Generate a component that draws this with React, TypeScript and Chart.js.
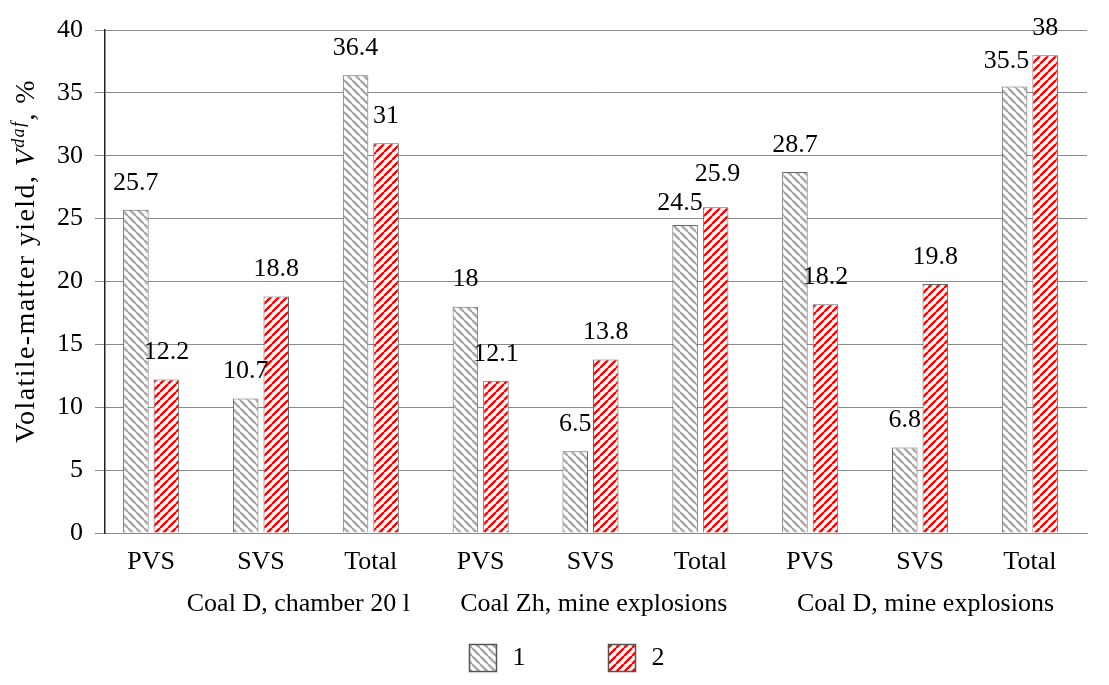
import React, { useEffect, useRef } from "react";
import { Chart, registerables } from "chart.js";

Chart.register(...registerables);

const categories = ["PVS", "SVS", "Total", "PVS", "SVS", "Total", "PVS", "SVS", "Total"];
const series1 = [25.7, 10.7, 36.4, 18, 6.5, 24.5, 28.7, 6.8, 35.5];
const series2 = [12.2, 18.8, 31, 12.1, 13.8, 25.9, 18.2, 19.8, 38];
const seriesNames = ["1", "2"];
const groupLabels = ["Coal D, chamber 20 l", "Coal Zh, mine explosions", "Coal D, mine explosions"];
const groupCenters = [1.34, 4.03, 7.05];
const yMin = 0;
const yMax = 40;
const yStep = 5;

const FONT = "'Liberation Serif', 'Times New Roman', serif";
const FS = 26;

// small manual label nudges (as in the original, to avoid overlap)
const LABEL_NUDGE: Record<string, [number, number]> = {
  "0-5": [-5, 5],
  "1-5": [2, -6],
  "0-8": [-8, 2],
};

function makePattern(color: string, dir: "back" | "fwd"): CanvasPattern | string {
  const s = 8;
  const c = document.createElement("canvas");
  c.width = s;
  c.height = s;
  const ctx = c.getContext("2d");
  if (!ctx) return color;
  ctx.fillStyle = "#ffffff";
  ctx.fillRect(0, 0, s, s);
  ctx.strokeStyle = color;
  ctx.lineWidth = 2.4;
  for (const k of [-s, 0, s]) {
    ctx.beginPath();
    if (dir === "back") {
      ctx.moveTo(k, 0);
      ctx.lineTo(k + s, s);
    } else {
      ctx.moveTo(k, s);
      ctx.lineTo(k + s, 0);
    }
    ctx.stroke();
  }
  const p = ctx.createPattern(c, "repeat");
  return p || color;
}

export default function App() {
  const ref = useRef<HTMLCanvasElement | null>(null);

  useEffect(() => {
    document.body.style.margin = "0";
    const canvas = ref.current;
    if (!canvas) return;

    const grayPat = makePattern("#a8a8a8", "back");
    const redPat = makePattern("#ff0000", "fwd");

    const labelsPlugin = {
      id: "valueLabels",
      afterDatasetsDraw(chart: any) {
        const ctx = chart.ctx;
        ctx.save();
        ctx.font = `${FS}px ${FONT}`;
        ctx.fillStyle = "#000";
        ctx.textAlign = "center";
        ctx.textBaseline = "middle";
        chart.data.datasets.forEach((ds: any, di: number) => {
          const meta = chart.getDatasetMeta(di);
          meta.data.forEach((el: any, i: number) => {
            const v = ds.data[i].y;
            const n = LABEL_NUDGE[`${di}-${i}`] || [0, 0];
            ctx.fillText(String(v), el.x + n[0], el.y - 27 + n[1]);
          });
        });
        ctx.restore();
      },
    };

    const extrasPlugin = {
      id: "extras",
      afterDraw(chart: any) {
        const ctx = chart.ctx;
        const area = chart.chartArea;
        const xs = chart.scales.x;
        ctx.save();
        // group labels
        ctx.font = `${FS}px ${FONT}`;
        ctx.fillStyle = "#000";
        ctx.textAlign = "center";
        ctx.textBaseline = "middle";
        groupLabels.forEach((g, i) => {
          ctx.fillText(g, xs.getPixelForValue(groupCenters[i]), area.bottom + 71);
        });

        // y-axis title with mixed styles
        const parts = [
          { t: "Volatile-matter yield, ", f: `28px ${FONT}`, dy: 0 },
          { t: "V", f: `italic 28px ${FONT}`, dy: 0 },
          { t: "daf", f: `italic 18px ${FONT}`, dy: -8 },
          { t: ", %", f: `28px ${FONT}`, dy: 0 },
        ];
        (ctx as any).letterSpacing = "1.4px";
        let total = 0;
        const widths = parts.map((p) => {
          ctx.font = p.f;
          const w = ctx.measureText(p.t).width;
          total += w;
          return w;
        });
        ctx.translate(27, 261);
        ctx.rotate(-Math.PI / 2);
        ctx.textAlign = "left";
        ctx.textBaseline = "middle";
        let x = -total / 2;
        parts.forEach((p, i) => {
          ctx.font = p.f;
          ctx.fillText(p.t, x, p.dy);
          x += widths[i];
        });
        ctx.restore();

        // legend
        ctx.save();
        const box = 27;
        const spacing = 139;
        const startX = chart.width / 2 - 85;
        const cy = area.bottom + 125;
        ctx.font = `${FS}px ${FONT}`;
        ctx.textAlign = "left";
        ctx.textBaseline = "middle";
        chart.data.datasets.forEach((ds: any, i: number) => {
          const bx = startX + i * spacing;
          ctx.fillStyle = ds.backgroundColor;
          ctx.fillRect(bx, cy - box / 2, box, box);
          ctx.strokeStyle = "#555";
          ctx.lineWidth = 1.5;
          ctx.strokeRect(bx, cy - box / 2, box, box);
          ctx.fillStyle = "#000";
          ctx.fillText(ds.label, bx + box + 16, cy);
        });
        ctx.restore();
      },
    };

    const chart = new Chart(canvas, {
      type: "bar",
      data: {
        datasets: [
          {
            label: seriesNames[0],
            data: series1.map((v, i) => ({ x: i, y: v })),
            backgroundColor: grayPat as any,
            borderColor: "#666",
            borderWidth: 1,
            categoryPercentage: 0.556,
            barPercentage: 0.836,
          },
          {
            label: seriesNames[1],
            data: series2.map((v, i) => ({ x: i, y: v })),
            backgroundColor: redPat as any,
            borderColor: "#666",
            borderWidth: 1,
            categoryPercentage: 0.556,
            barPercentage: 0.836,
          },
        ],
      },
      options: {
        animation: false,
        responsive: true,
        maintainAspectRatio: false,
        layout: { padding: { top: 30, right: 22, left: 0, bottom: 0 } },
        plugins: {
          legend: { display: false },
          tooltip: { enabled: false },
        },
        scales: {
          x: {
            type: "linear",
            min: -0.42,
            max: 8.52,
            offset: false,
            grid: { display: false, offset: false },
            border: { display: true, color: "#8a8a8a", width: 1 },
            afterBuildTicks: (scale: any) => {
              scale.ticks = categories.map((_, i) => ({ value: i }));
            },
            afterFit: (scale: any) => {
              scale.height = 152;
            },
            ticks: {
              autoSkip: false,
              maxRotation: 0,
              padding: 6,
              color: "#000",
              font: { family: FONT, size: FS },
              callback: (v: any) => categories[Number(v)] ?? "",
            },
          },
          y: {
            min: yMin,
            max: yMax,
            afterFit: (scale: any) => {
              scale.width = 105;
            },
            grid: { color: "#8a8a8a", lineWidth: 1, tickLength: 10, drawTicks: true },
            border: { display: true, color: "#222", width: 1.5 },
            ticks: {
              stepSize: yStep,
              padding: 12,
              color: "#000",
              font: { family: FONT, size: FS },
            },
          },
        },
      },
      plugins: [labelsPlugin, extrasPlugin],
    } as any);

    return () => chart.destroy();
  }, []);

  return (
    <div style={{ width: 1109, height: 685, position: "relative", background: "#fff" }}>
      <canvas ref={ref} />
    </div>
  );
}
